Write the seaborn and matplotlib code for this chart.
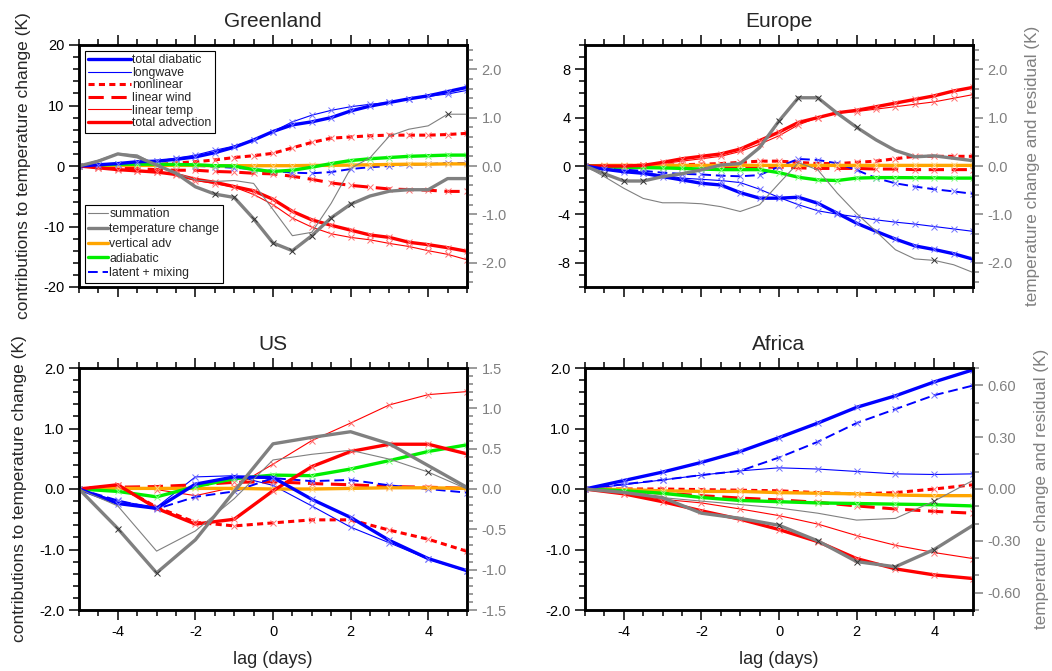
import matplotlib
matplotlib.use("Agg")
import matplotlib.pyplot as plt
from matplotlib.lines import Line2D
from matplotlib.ticker import MultipleLocator, FormatStrFormatter
import seaborn as sns

# lags (days)
lag_long = list(range(-10, 11))
lag_short = list(range(-5, 6))

# Greenland: contributions (left axis), gray curves on the right axis
gl_total_diabatic = [0, 0.2, 0.4, 0.7, 0.8, 1.1, 1.5, 2.2, 3.1, 4.3, 5.7, 6.8, 7.3, 8.0, 9.1, 9.9, 10.5, 11.1, 11.6, 12.3, 13.0]
gl_longwave = [0, 0.15, 0.3, 0.5, 0.8, 1.3, 1.8, 2.6, 3.3, 4.3, 5.7, 7.3, 8.4, 9.2, 9.8, 10.2, 10.5, 11.1, 11.5, 11.9, 12.5]
gl_nonlinear = [0, 0.02, 0.05, 0.1, 0.2, 0.5, 0.7, 1.0, 1.4, 1.7, 2.1, 3.0, 3.9, 4.6, 4.8, 5.0, 5.1, 5.1, 5.1, 5.2, 5.4]
gl_linear_wind = [0, -0.15, -0.3, -0.45, -0.6, -0.7, -0.7, -0.9, -1.0, -1.2, -1.3, -1.7, -2.2, -2.8, -3.2, -3.5, -3.8, -3.9, -4.0, -4.2, -4.2]
gl_linear_temp = [0, -0.25, -0.5, -0.75, -1.0, -1.5, -2.4, -2.9, -3.5, -4.7, -6.4, -8.6, -10.1, -11.2, -11.8, -12.2, -12.8, -13.3, -14.0, -14.6, -15.5]
gl_total_advection = [0, -0.3, -0.6, -0.8, -1.0, -1.4, -2.2, -2.7, -3.4, -4.1, -5.5, -7.5, -8.9, -9.8, -10.6, -11.4, -11.8, -12.6, -13.0, -13.5, -14.1]
gl_vertical_adv = [0, 0.05, 0.1, 0.1, 0.1, 0.1, 0.1, 0.05, 0.05, 0.05, 0.05, 0.05, 0.1, 0.1, 0.15, 0.2, 0.25, 0.3, 0.3, 0.35, 0.35]
gl_adiabatic = [0, 0.15, 0.3, 0.3, 0.3, 0.25, 0.2, 0.05, 0.0, -0.6, -0.9, -0.7, -0.2, 0.4, 0.9, 1.2, 1.4, 1.6, 1.7, 1.8, 1.8]
gl_latent_mixing = [0, 0.05, 0.1, 0.1, 0.1, 0.1, 0.0, -0.1, -0.3, -0.5, -0.8, -1.1, -1.2, -1.0, -0.5, -0.2, 0.0, 0.2, 0.3, 0.5, 0.5]
gl_summation = [0, 0.12, 0.26, 0.23, 0.02, -0.14, -0.29, -0.32, -0.30, -0.36, -0.90, -1.44, -1.37, -0.77, -0.05, 0.17, 0.62, 0.76, 0.83, 1.07, 1.07]
gl_temp_change = [0, 0.10, 0.25, 0.19, 0.02, -0.15, -0.43, -0.58, -0.65, -1.09, -1.59, -1.75, -1.44, -1.07, -0.79, -0.62, -0.52, -0.49, -0.49, -0.26, -0.26]
gl_summation_marks = [19]
gl_temp_change_marks = [7, 8, 9, 10, 11, 12, 13, 14]

# Europe
eu_total_diabatic = [0, -0.27, -0.47, -0.6, -0.88, -1.15, -1.43, -1.57, -2.2, -2.66, -2.66, -2.58, -3.08, -3.9, -4.73, -5.4, -6.04, -6.6, -6.9, -7.25, -7.7]
eu_longwave = [0, -0.2, -0.33, -0.55, -0.74, -1.0, -1.1, -1.2, -1.37, -1.92, -2.6, -3.2, -3.7, -3.98, -4.2, -4.45, -4.64, -4.8, -5.0, -5.2, -5.4]
eu_nonlinear = [0, 0.02, 0.04, 0.06, 0.08, 0.1, 0.15, 0.2, 0.3, 0.4, 0.4, 0.3, 0.2, 0.2, 0.3, 0.4, 0.6, 0.8, 0.8, 0.8, 0.8]
eu_linear_wind = [0, -0.02, -0.04, -0.06, -0.08, -0.1, -0.1, -0.1, -0.1, -0.1, -0.1, -0.15, -0.2, -0.2, -0.2, -0.25, -0.25, -0.3, -0.3, -0.3, -0.3]
eu_linear_temp = [0, 0, 0, 0.05, 0.2, 0.4, 0.6, 0.8, 1.2, 1.8, 2.5, 3.4, 4.0, 4.4, 4.5, 4.7, 4.9, 5.1, 5.3, 5.6, 5.9]
eu_total_advection = [0, 0, 0, 0.05, 0.3, 0.6, 0.8, 1.0, 1.4, 2.1, 2.8, 3.6, 4.0, 4.4, 4.6, 4.9, 5.2, 5.5, 5.8, 6.2, 6.5]
eu_vertical_adv = [0, 0.05, 0.05, 0.05, 0.05, 0.05, 0.05, 0.05, 0.05, 0.05, 0.05, 0.05, 0.05, 0.05, 0.05, 0.05, 0.05, 0.05, 0.05, 0.05, 0.05]
eu_adiabatic = [0, -0.05, -0.1, -0.13, -0.16, -0.2, -0.25, -0.3, -0.3, -0.3, -0.55, -0.93, -1.15, -1.2, -1.0, -0.96, -0.96, -0.97, -0.98, -1.0, -1.0]
eu_latent_mixing = [0, -0.2, -0.3, -0.4, -0.55, -0.65, -0.7, -0.8, -0.85, -0.75, -0.05, 0.58, 0.5, 0.22, -0.33, -1.0, -1.43, -1.7, -1.92, -2.1, -2.3]
eu_summation = [0, -0.22, -0.46, -0.67, -0.76, -0.76, -0.78, -0.84, -0.94, -0.80, -0.36, 0.07, -0.08, -0.56, -0.98, -1.35, -1.73, -1.92, -1.95, -2.04, -2.2]
eu_temp_change = [0, -0.16, -0.31, -0.31, -0.22, -0.16, -0.08, 0.02, 0.05, 0.38, 0.93, 1.41, 1.41, 1.09, 0.80, 0.54, 0.32, 0.19, 0.21, 0.16, 0.11]
eu_summation_marks = [18]
eu_temp_change_marks = [1, 2, 3, 10, 11, 12, 14]

# US
us_total_diabatic = [0, -0.24, -0.32, 0.08, 0.2, 0.19, -0.17, -0.47, -0.85, -1.15, -1.35]
us_longwave = [0, -0.2, -0.3, 0.2, 0.22, 0.06, -0.28, -0.63, -0.89, -1.16, -1.36]
us_nonlinear = [0, 0.06, -0.3, -0.55, -0.61, -0.56, -0.51, -0.51, -0.68, -0.83, -1.03]
us_linear_wind = [0, 0.03, 0.04, 0.07, 0.11, 0.12, 0.09, 0.07, 0.04, 0.03, 0.01]
us_linear_temp = [0, 0.02, -0.01, -0.11, 0.03, 0.41, 0.8, 1.09, 1.39, 1.56, 1.61]
us_total_advection = [0, 0.07, -0.32, -0.58, -0.50, -0.03, 0.37, 0.62, 0.74, 0.74, 0.58]
us_vertical_adv = [0, 0.01, 0.01, 0.01, 0.01, 0.0, 0.0, 0.01, 0.02, 0.02, 0.01]
us_adiabatic = [0, -0.04, -0.13, 0.04, 0.17, 0.23, 0.22, 0.33, 0.47, 0.62, 0.73]
us_latent_mixing = [0, -0.19, -0.33, -0.13, -0.04, 0.18, 0.13, 0.15, 0.06, 0.0, -0.06]
us_summation = [0, -0.21, -0.77, -0.52, -0.12, 0.36, 0.43, 0.48, 0.37, 0.21, 0.0]
us_temp_change = [0, -0.49, -1.04, -0.63, -0.03, 0.56, 0.64, 0.71, 0.56, 0.29, 0.02]
us_summation_marks = [9]
us_temp_change_marks = [1, 2]

# Africa
af_total_diabatic = [0, 0.14, 0.28, 0.44, 0.62, 0.85, 1.09, 1.35, 1.54, 1.77, 1.97]
af_longwave = [0, 0.07, 0.15, 0.23, 0.30, 0.35, 0.33, 0.29, 0.25, 0.24, 0.25]
af_nonlinear = [0, 0.0, 0.0, -0.01, -0.02, -0.03, -0.06, -0.08, -0.06, 0.0, 0.07]
af_linear_wind = [0, -0.03, -0.07, -0.11, -0.15, -0.18, -0.22, -0.28, -0.33, -0.37, -0.40]
af_linear_temp = [0, -0.08, -0.17, -0.23, -0.33, -0.44, -0.58, -0.77, -0.93, -1.05, -1.15]
af_total_advection = [0, -0.08, -0.21, -0.36, -0.50, -0.67, -0.87, -1.15, -1.32, -1.42, -1.48]
af_vertical_adv = [0, -0.01, -0.03, -0.04, -0.04, -0.06, -0.07, -0.08, -0.1, -0.11, -0.11]
af_adiabatic = [0, -0.03, -0.07, -0.14, -0.19, -0.21, -0.23, -0.24, -0.25, -0.26, -0.28]
af_latent_mixing = [0, 0.08, 0.15, 0.23, 0.30, 0.52, 0.78, 1.09, 1.32, 1.55, 1.71]
af_summation = [0, -0.02, -0.05, -0.07, -0.09, -0.11, -0.14, -0.18, -0.17, -0.07, 0.05]
af_temp_change = [0, -0.02, -0.05, -0.14, -0.17, -0.21, -0.30, -0.42, -0.45, -0.35, -0.21]
af_summation_marks = [9]
af_temp_change_marks = [5, 6, 7, 8, 9]

BLUE, RED, GRAY = "#0000ff", "#ff0000", "#808080"
ORANGE, GREEN = "#ffa500", "#00ee00"

# color, linewidth, linestyle, marker color
styles = {
    "longwave": (BLUE, 0.8, "-", "#6f6fff"),
    "linear temp": (RED, 0.8, "-", "#ff6f6f"),
    "nonlinear": (RED, 2.2, (0, (2, 1.4)), "#ff6f6f"),
    "linear wind": (RED, 2.2, (0, (5, 2.5)), "#ff6f6f"),
    "latent + mixing": (BLUE, 1.4, (0, (5, 2.5)), "#6f6fff"),
    "vertical adv": (ORANGE, 2.4, "-", "#ffd27f"),
    "adiabatic": (GREEN, 2.4, "-", "#7fff7f"),
    "total advection": (RED, 2.4, "-", "#ff6f6f"),
    "total diabatic": (BLUE, 2.4, "-", "#6f6fff"),
    "summation": (GRAY, 0.8, "-", "#333333"),
    "temperature change": (GRAY, 2.4, "-", "#333333"),
}

sns.set_style("ticks")
plt.rcParams["font.family"] = ["Liberation Sans", "DejaVu Sans"]
plt.rcParams["axes.unicode_minus"] = False

fig = plt.figure(figsize=(10.52, 6.71), dpi=100)
W, H = 1052, 671
boxes = {
    "Greenland": (79, 45), "Europe": (585, 45),
    "US": (79, 368), "Africa": (585, 368),
}
aw, ah = 388, 242


def draw_line(ax, x, y, name, marks=None):
    c, lw, ls, mc = styles[name]
    sns.lineplot(x=x, y=y, ax=ax, color=c, linewidth=lw, linestyle=ls,
                 marker="x", markersize=4, markeredgecolor=mc,
                 markeredgewidth=0.7, markevery=marks, sort=False, errorbar=None)


panels = [
    ("Greenland", lag_long, [gl_longwave, gl_linear_temp, gl_nonlinear, gl_linear_wind, gl_latent_mixing,
                             gl_vertical_adv, gl_adiabatic, gl_total_advection, gl_total_diabatic],
     [gl_summation, gl_temp_change], [gl_summation_marks, gl_temp_change_marks],
     (20, 10, 2, "%d"), (2.5, 1.0, 0.2, "%.1f"), (10, 4, 1)),
    ("Europe", lag_long, [eu_longwave, eu_linear_temp, eu_nonlinear, eu_linear_wind, eu_latent_mixing,
                          eu_vertical_adv, eu_adiabatic, eu_total_advection, eu_total_diabatic],
     [eu_summation, eu_temp_change], [eu_summation_marks, eu_temp_change_marks],
     (10, 4, 1, "%d"), (2.5, 1.0, 0.2, "%.1f"), (10, 4, 1)),
    ("US", lag_short, [us_longwave, us_linear_temp, us_nonlinear, us_linear_wind, us_latent_mixing,
                       us_vertical_adv, us_adiabatic, us_total_advection, us_total_diabatic],
     [us_summation, us_temp_change], [us_summation_marks, us_temp_change_marks],
     (2, 1, 0.2, "%.1f"), (1.5, 0.5, 0.1, "%.1f"), (5, 2, 0.5)),
    ("Africa", lag_short, [af_longwave, af_linear_temp, af_nonlinear, af_linear_wind, af_latent_mixing,
                           af_vertical_adv, af_adiabatic, af_total_advection, af_total_diabatic],
     [af_summation, af_temp_change], [af_summation_marks, af_temp_change_marks],
     (2, 1, 0.2, "%.1f"), (0.7, 0.3, 0.1, "%.2f"), (5, 2, 0.5)),
]
left_names = ["longwave", "linear temp", "nonlinear", "linear wind", "latent + mixing",
              "vertical adv", "adiabatic", "total advection", "total diabatic"]
right_names = ["summation", "temperature change"]

for title, lags, left_series, right_series, right_marks, ly, ry, xs in panels:
    x0, y0 = boxes[title]
    ax = fig.add_axes([x0 / W, 1 - (y0 + ah) / H, aw / W, ah / H])
    ax2 = ax.twinx()
    for name, vals in zip(left_names, left_series):
        draw_line(ax, lags, vals, name)
    for name, vals, marks in zip(right_names, right_series, right_marks):
        draw_line(ax2, lags, vals, name, marks)

    ax.set_xlim(-xs[0], xs[0])
    ax.xaxis.set_major_locator(MultipleLocator(xs[1]))
    ax.xaxis.set_minor_locator(MultipleLocator(xs[2]))
    ax.set_ylim(-ly[0], ly[0])
    ax.yaxis.set_major_locator(MultipleLocator(ly[1]))
    ax.yaxis.set_minor_locator(MultipleLocator(ly[2]))
    ax.yaxis.set_major_formatter(FormatStrFormatter(ly[3]))
    ax2.set_ylim(-ry[0], ry[0])
    ax2.yaxis.set_major_locator(MultipleLocator(ry[1]))
    ax2.yaxis.set_minor_locator(MultipleLocator(ry[2]))
    ax2.yaxis.set_major_formatter(FormatStrFormatter(ry[3]))

    ax.tick_params(which="both", direction="out", top=True, right=False,
                   width=1.1, labelsize=10.5, colors="black")
    ax.tick_params(which="major", length=7)
    ax.tick_params(which="minor", length=4)
    ax2.tick_params(which="both", direction="out", width=1.1, labelsize=10.5,
                    colors=GRAY)
    ax2.tick_params(which="major", length=7)
    ax2.tick_params(which="minor", length=4)
    for a in (ax, ax2):
        for s in a.spines.values():
            s.set_linewidth(1.8)
            s.set_color("black")

    ax.set_title(title, fontsize=15, pad=13)
    if title in ("Greenland", "Europe"):
        ax.tick_params(axis="x", labelbottom=False)
        ax.set_xlabel("")
    else:
        ax.set_xlabel("lag (days)", fontsize=13, labelpad=9)
    if title in ("Greenland", "US"):
        ax.set_ylabel("contributions to temperature change (K)", fontsize=12.5, labelpad=9)
    else:
        ax.set_ylabel("")
    if title in ("Europe", "Africa"):
        ax2.set_ylabel("temperature change and residual (K)", fontsize=12.3,
                       color=GRAY, labelpad=9)
    else:
        ax2.set_ylabel("")

    if title == "Greenland":
        def handle(name):
            c, lw, ls, mc = styles[name]
            return Line2D([], [], color=c, linewidth=lw, linestyle=ls)
        top_names = ["total diabatic", "longwave", "nonlinear", "linear wind",
                     "linear temp", "total advection"]
        bot_names = ["summation", "temperature change", "vertical adv",
                     "adiabatic", "latent + mixing"]
        leg1 = ax2.legend([handle(n) for n in top_names], top_names, loc="upper left",
                          bbox_to_anchor=(0.015, 0.977), borderaxespad=0, fontsize=8.8,
                          handlelength=3.5, handletextpad=0.1, labelspacing=0.05,
                          borderpad=0.3, fancybox=False, framealpha=1, edgecolor="black")
        leg1.get_frame().set_linewidth(0.8)
        ax2.add_artist(leg1)
        leg2 = ax2.legend([handle(n) for n in bot_names], bot_names, loc="lower left",
                          bbox_to_anchor=(0.015, 0.017), borderaxespad=0, fontsize=8.8,
                          handlelength=1.6, handletextpad=0.1, labelspacing=0.22,
                          borderpad=0.3, fancybox=False, framealpha=1, edgecolor="black")
        leg2.get_frame().set_linewidth(0.8)

fig.savefig("out.png", dpi=100)
